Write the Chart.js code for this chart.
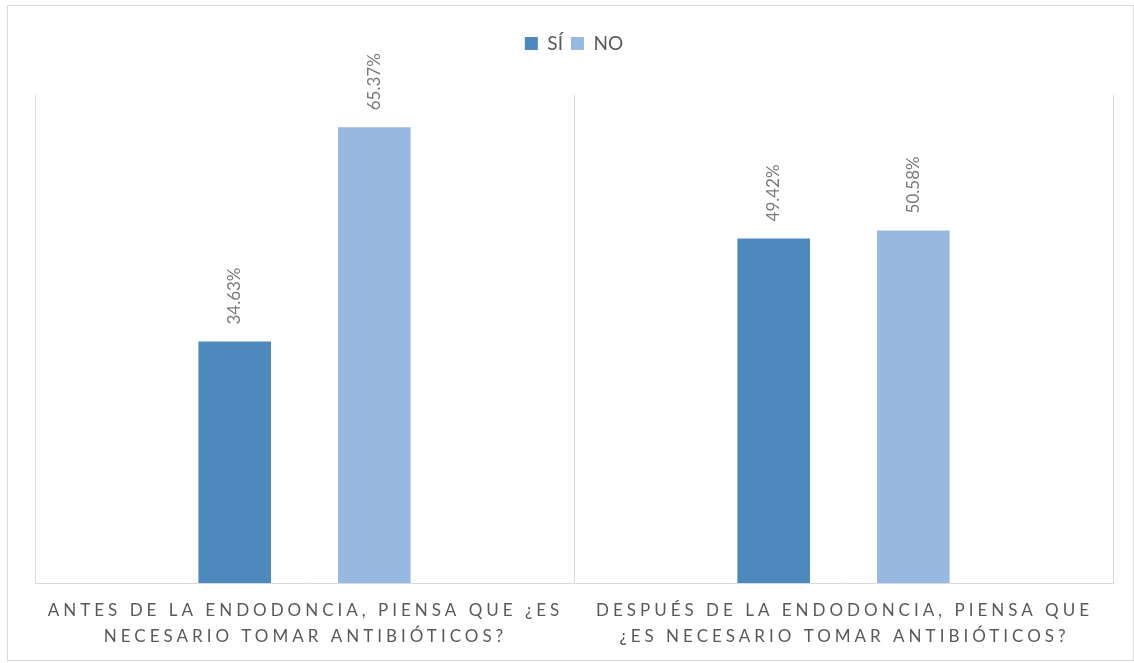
<!DOCTYPE html>
<html lang="es">
<head>
<meta charset="utf-8">
<title>Antibióticos y endodoncia</title>
<script src="https://cdn.jsdelivr.net/npm/chart.js@4"></script>
<style>
  html, body { margin: 0; padding: 0; background: #fff; }
  body { width: 1134px; height: 663px; position: relative; overflow: hidden; }
  .chart-box {
    position: absolute; left: 7px; top: 5px;
    width: 1125px; height: 654px;
    border: 1px solid #d9d9d9;
  }
</style>
</head>
<body>
<div class="chart-box"><canvas id="chart"></canvas></div>
<script>
// categories (two lines each) and series values in percent
const categories = [
  ['ANTES DE LA ENDODONCIA, PIENSA QUE ¿ES', 'NECESARIO TOMAR ANTIBIÓTICOS?'],
  ['DESPUÉS DE LA ENDODONCIA, PIENSA QUE', '¿ES NECESARIO TOMAR ANTIBIÓTICOS?']
];
const seriesNames = ['SÍ', 'NO'];
const siValues = [34.63, 49.42];
const noValues = [65.37, 50.58];

const FONT = 'Lato, "Open Sans", sans-serif';
const TEXT_GRAY = '#595959';

// extra room between the legend and the plot
const legendGap = {
  id: 'legendGap',
  beforeInit(chart) {
    const fit = chart.legend.fit;
    chart.legend.fit = function () {
      fit.bind(chart.legend)();
      this.height += 32;
    };
  }
};

// rotated value labels above each bar
const barLabels = {
  id: 'barLabels',
  afterDatasetsDraw(chart) {
    const ctx = chart.ctx;
    ctx.save();
    ctx.font = '17px ' + FONT;
    ctx.fillStyle = '#7a7a7a';
    ctx.textAlign = 'left';
    ctx.textBaseline = 'middle';
    chart.data.datasets.forEach((ds, i) => {
      chart.getDatasetMeta(i).data.forEach((bar, j) => {
        ctx.save();
        ctx.translate(bar.x, bar.y - 17);
        ctx.rotate(-Math.PI / 2);
        ctx.fillText(ds.data[j].toFixed(2) + '%', 0, 0);
        ctx.restore();
      });
    });
    ctx.restore();
  }
};

// spaced-out category labels under the axis
const categoryLabels = {
  id: 'categoryLabels',
  afterDraw(chart) {
    const ctx = chart.ctx;
    const x = chart.scales.x;
    const bottom = chart.chartArea.bottom;
    ctx.save();
    ctx.font = '17px ' + FONT;
    ctx.fillStyle = TEXT_GRAY;
    ctx.textAlign = 'center';
    ctx.textBaseline = 'middle';
    ctx.letterSpacing = '4px';
    categories.forEach((lines, i) => {
      const cx = x.getPixelForValue(i) + 1;
      lines.forEach((line, k) => {
        ctx.fillText(line, cx, bottom + 28 + k * 26);
      });
    });
    ctx.restore();
  }
};

new Chart(document.getElementById('chart'), {
  type: 'bar',
  data: {
    labels: categories,
    datasets: [
      { label: seriesNames[0], data: siValues, backgroundColor: '#4e89bd' },
      { label: seriesNames[1], data: noValues, backgroundColor: '#98b9df' }
    ]
  },
  options: {
    responsive: true,
    maintainAspectRatio: false,
    animation: false,
    layout: { padding: { left: 27, right: 20, top: 20, bottom: 77 } },
    datasets: {
      bar: { categoryPercentage: 0.518, barPercentage: 0.52 }
    },
    plugins: {
      legend: {
        position: 'top',
        labels: {
          color: TEXT_GRAY,
          font: { family: FONT, size: 19 },
          boxWidth: 13,
          boxHeight: 13,
          padding: 8
        }
      },
      tooltip: { enabled: false }
    },
    scales: {
      x: {
        grid: { color: '#d9d9d9', drawTicks: false, offset: true },
        border: { color: '#d9d9d9' },
        ticks: { display: false }
      },
      y: {
        display: false,
        min: 0,
        max: 70
      }
    }
  },
  plugins: [legendGap, barLabels, categoryLabels]
});
</script>
</body>
</html>
